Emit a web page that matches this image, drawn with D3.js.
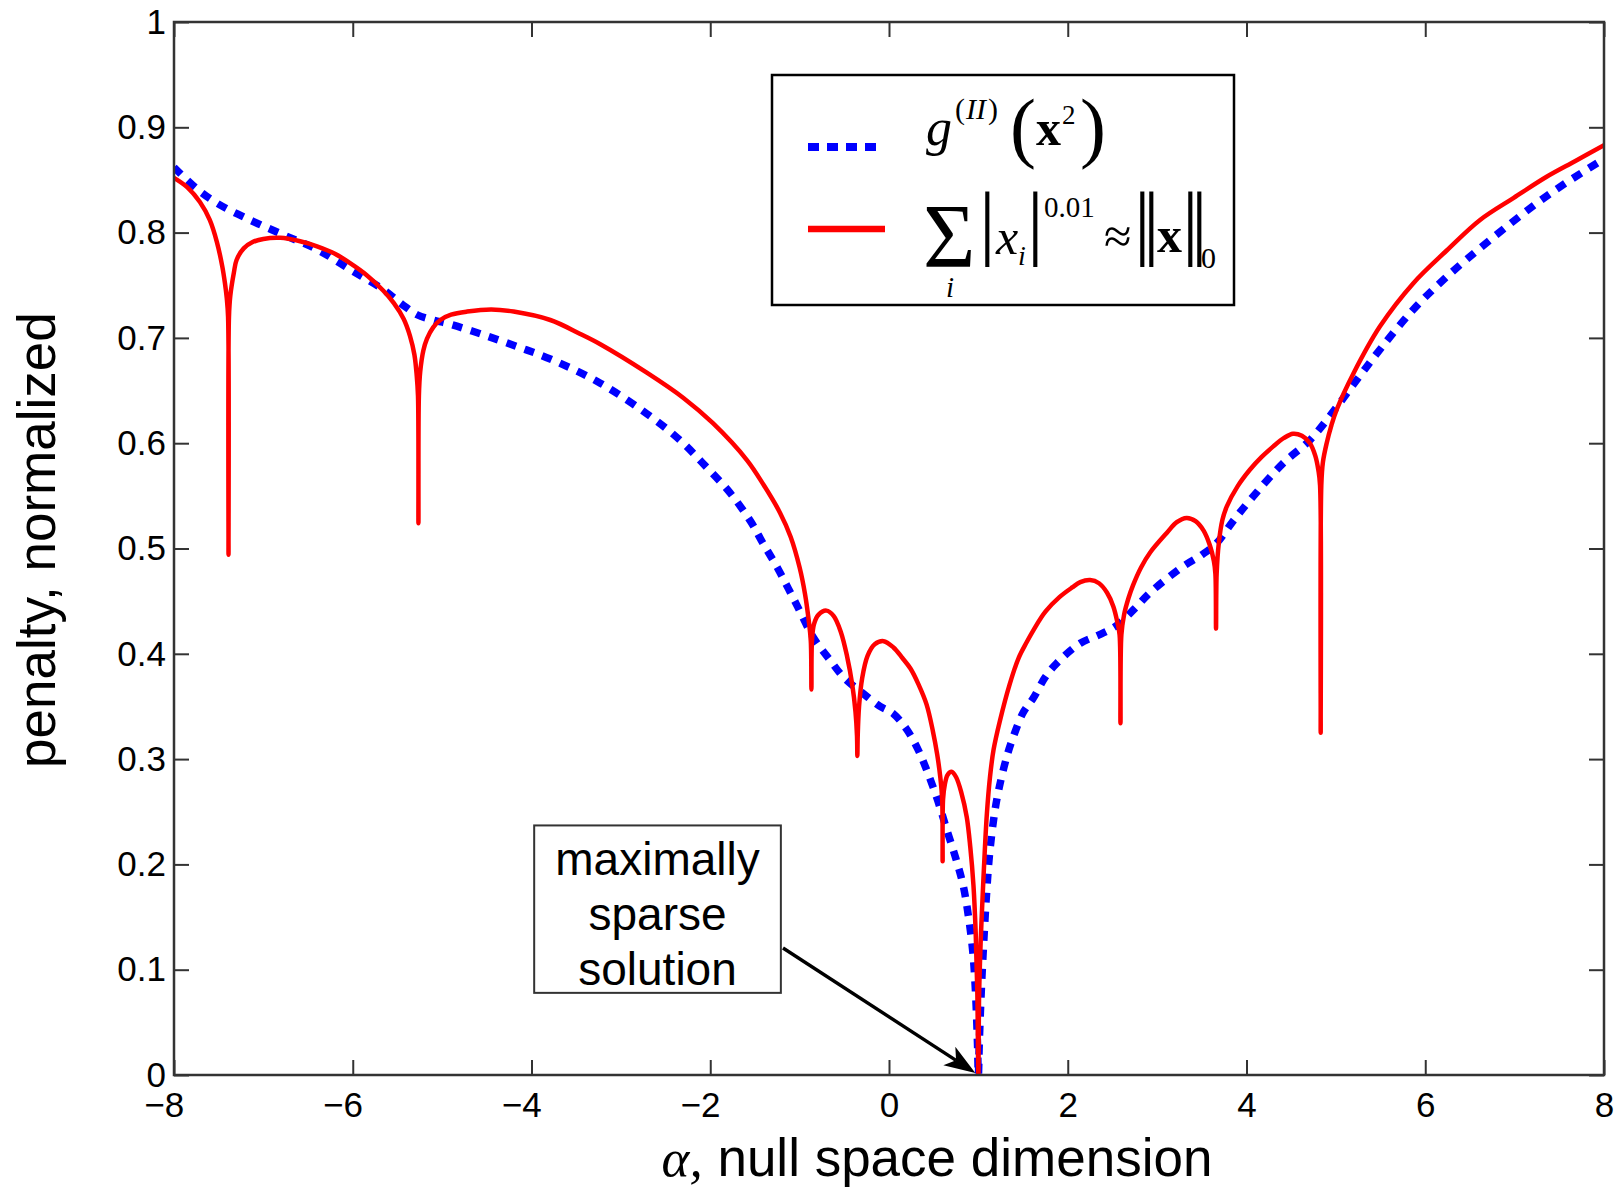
<!DOCTYPE html>
<html>
<head>
<meta charset="utf-8">
<script src="https://cdn.jsdelivr.net/npm/d3@7"></script>
<style>
html,body{margin:0;padding:0;background:#fff;}
svg{display:block;}
</style>
</head>
<body>
<svg id="chart" width="1621" height="1187"></svg>
<script>
// ---------------- data ----------------
const xTicks = [-8, -6, -4, -2, 0, 2, 4, 6, 8];
const yTicks = [0, 0.1, 0.2, 0.3, 0.4, 0.5, 0.6, 0.7, 0.8, 0.9, 1];
const yTickLabels = ["0", "0.1", "0.2", "0.3", "0.4", "0.5", "0.6", "0.7", "0.8", "0.9", "1"];
const xLabelGreek = "\u03B1,";
const xLabelText = " null space dimension";
const yLabelText = "penalty, normalized";
const annotationLines = ["maximally", "sparse", "solution"];

// blue dotted: g^(II)(x^2)
const blueX = [-8.00,-7.75,-7.52,-7.15,-6.78,-6.40,-6.03,-5.66,-5.45,-5.28,-5.10,-4.91,-4.54,-4.17,-3.79,-3.23,-2.71,-2.34,-2.05,-1.78,-1.55,-1.41,-1.25,-1.03,-0.85,-0.66,-0.50,-0.30,-0.10,0.05,0.20,0.32,0.42,0.54,0.65,0.75,0.83,0.89,0.94,0.97,0.99,1.00,1.01,1.03,1.056,1.09,1.13,1.205,1.317,1.39,1.50,1.615,1.75,1.876,2.14,2.35,2.55,2.75,2.92,3.29,3.50,3.666,3.85,4.04,4.41,4.71,4.97,5.233,5.494,5.867,6.24,6.725,7.396,8.00];
const blueY = [0.862,0.842,0.828,0.812,0.798,0.784,0.765,0.746,0.732,0.722,0.717,0.713,0.703,0.692,0.680,0.657,0.628,0.603,0.578,0.553,0.526,0.505,0.482,0.446,0.416,0.394,0.377,0.363,0.350,0.343,0.328,0.310,0.290,0.262,0.232,0.205,0.180,0.150,0.115,0.075,0.030,0.000,0.030,0.075,0.120,0.170,0.214,0.261,0.302,0.321,0.344,0.358,0.378,0.391,0.410,0.418,0.427,0.443,0.458,0.483,0.494,0.505,0.526,0.546,0.581,0.603,0.630,0.660,0.689,0.727,0.758,0.793,0.837,0.870];

// red solid: sum |x_i|^0.01
const redX = [-8.00,-7.85,-7.71,-7.60,-7.52,-7.46,-7.43,-7.41,-7.395,-7.390,-7.385,-7.37,-7.33,-7.30,-7.22,-7.12,-7.00,-6.81,-6.60,-6.40,-6.20,-6.03,-5.85,-5.66,-5.54,-5.43,-5.36,-5.31,-5.285,-5.270,-5.265,-5.260,-5.245,-5.21,-5.17,-5.10,-5.02,-4.90,-4.72,-4.45,-4.20,-3.79,-3.46,-3.23,-2.71,-2.30,-1.97,-1.59,-1.40,-1.22,-1.10,-1.00,-0.94,-0.90,-0.875,-0.868,-0.862,-0.84,-0.79,-0.70,-0.62,-0.54,-0.47,-0.41,-0.375,-0.358,-0.354,-0.350,-0.335,-0.30,-0.24,-0.16,-0.06,0.05,0.15,0.24,0.33,0.42,0.49,0.54,0.575,0.595,0.600,0.605,0.625,0.655,0.70,0.75,0.81,0.87,0.91,0.945,0.97,0.988,1.000,1.008,1.025,1.045,1.07,1.095,1.13,1.17,1.24,1.35,1.45,1.54,1.62,1.75,1.91,2.05,2.14,2.25,2.35,2.44,2.51,2.555,2.580,2.590,2.600,2.63,2.68,2.73,2.82,2.92,3.11,3.22,3.33,3.43,3.52,3.59,3.635,3.652,3.659,3.666,3.69,3.73,3.78,3.90,4.04,4.17,4.30,4.42,4.52,4.62,4.71,4.77,4.805,4.823,4.830,4.837,4.855,4.897,4.95,5.01,5.195,5.494,5.867,6.24,6.613,6.99,7.358,7.68,8.00];
const redY = [0.852,0.843,0.829,0.812,0.791,0.768,0.752,0.738,0.720,0.494,0.720,0.740,0.762,0.774,0.785,0.791,0.794,0.795,0.792,0.787,0.780,0.771,0.760,0.745,0.733,0.718,0.702,0.684,0.665,0.645,0.524,0.645,0.668,0.688,0.699,0.710,0.717,0.722,0.725,0.727,0.725,0.717,0.704,0.694,0.667,0.643,0.619,0.584,0.560,0.534,0.511,0.482,0.457,0.433,0.412,0.366,0.412,0.428,0.437,0.441,0.436,0.421,0.398,0.370,0.345,0.322,0.303,0.322,0.350,0.377,0.398,0.409,0.412,0.406,0.396,0.386,0.371,0.352,0.327,0.304,0.282,0.262,0.203,0.262,0.276,0.285,0.288,0.283,0.268,0.245,0.216,0.180,0.135,0.080,0.000,0.075,0.125,0.165,0.210,0.248,0.283,0.309,0.336,0.371,0.396,0.411,0.423,0.440,0.454,0.463,0.468,0.470,0.467,0.458,0.445,0.430,0.418,0.334,0.418,0.437,0.453,0.465,0.482,0.496,0.515,0.525,0.529,0.526,0.517,0.503,0.488,0.476,0.424,0.476,0.505,0.527,0.540,0.559,0.575,0.587,0.597,0.605,0.609,0.607,0.600,0.588,0.574,0.560,0.325,0.560,0.582,0.600,0.617,0.632,0.666,0.711,0.752,0.783,0.812,0.833,0.853,0.868,0.883];

// annotation (data units): box corners and arrow
const annoBox = [[-3.97, 0.237], [-1.21, 0.078]];
const annoArrow = [[-1.186, 0.1206], [0.966, 0.002]];

// ---------------- layout ----------------
const W = 1621, H = 1187;
const m = {left: 174, top: 22, right: 1621 - 1604, bottom: 1187 - 1075};
const pw = W - m.left - m.right, ph = H - m.top - m.bottom;
const SANS = "'Liberation Sans', Arial, Helvetica, sans-serif";
const SERIF = "'Liberation Serif', 'Times New Roman', Times, serif";
const AXC = "#333";
const TICKFONT = 35;

const svg = d3.select("#chart");
svg.append("rect").attr("width", W).attr("height", H).attr("fill", "#fff");

const x = d3.scaleLinear().domain([-8, 8]).range([m.left, m.left + pw]);
const y = d3.scaleLinear().domain([0, 1]).range([m.top + ph, m.top]);

const blueData = blueX.map((d, i) => [d, blueY[i]]);
const redData = redX.map((d, i) => [d, redY[i]]);

const line = d3.line().x(d => x(d[0])).y(d => y(d[1])).curve(d3.curveCatmullRom.alpha(0.5));

svg.append("defs").append("clipPath").attr("id", "clip")
  .append("rect").attr("x", m.left).attr("y", m.top - 4).attr("width", pw).attr("height", ph + 4);

const plot = svg.append("g").attr("clip-path", "url(#clip)");
plot.append("path").datum(blueData).attr("d", line)
  .attr("fill", "none").attr("stroke", "#0000ff").attr("stroke-width", 7.5)
  .attr("stroke-dasharray", "10,9").attr("stroke-linecap", "butt");
plot.append("path").datum(redData).attr("d", line)
  .attr("fill", "none").attr("stroke", "#ff0000").attr("stroke-width", 4.5)
  .attr("stroke-linejoin", "round");

// ---------------- axes ----------------
const TICK = 15;
function styleAxis(g) {
  g.select(".domain").remove();
  g.selectAll(".tick line").attr("stroke", AXC).attr("stroke-width", 2);
  g.selectAll(".tick text").attr("fill", "#000").attr("font-family", SANS).attr("font-size", TICKFONT);
}
const gxb = svg.append("g").attr("transform", `translate(0,${m.top + ph})`)
  .call(d3.axisBottom(x).tickValues(xTicks).tickSizeInner(-TICK).tickSizeOuter(0).tickPadding(17)
    .tickFormat(d => (d < 0 ? "\u2212" : "") + Math.abs(d)))
  .call(styleAxis);
// centre the digits on the tick, letting the minus sign hang to the left
gxb.selectAll(".tick text").attr("dx", d => d < 0 ? -0.292 * TICKFONT : 0);
svg.append("g").attr("transform", `translate(0,${m.top})`)
  .call(d3.axisTop(x).tickValues(xTicks).tickSizeInner(-TICK).tickSizeOuter(0).tickFormat(""))
  .call(styleAxis);
svg.append("g").attr("transform", `translate(${m.left},0)`)
  .call(d3.axisLeft(y).tickValues(yTicks).tickSizeInner(-TICK).tickSizeOuter(0).tickPadding(8)
    .tickFormat((d, i) => yTickLabels[i]))
  .call(styleAxis);
svg.append("g").attr("transform", `translate(${m.left + pw},0)`)
  .call(d3.axisRight(y).tickValues(yTicks).tickSizeInner(-TICK).tickSizeOuter(0).tickFormat(""))
  .call(styleAxis);

svg.append("rect").attr("x", m.left).attr("y", m.top).attr("width", pw).attr("height", ph)
  .attr("fill", "none").attr("stroke", AXC).attr("stroke-width", 2.5);

// axis labels
const xl = svg.append("text").attr("x", x(0) + 48).attr("y", 1176)
  .attr("text-anchor", "middle").attr("font-family", SANS).attr("font-size", 53).attr("fill", "#000");
xl.append("tspan").attr("font-family", SERIF).attr("font-style", "italic").text(xLabelGreek);
xl.append("tspan").text(xLabelText);

svg.append("text").attr("transform", `translate(55,${y(0.508)}) rotate(-90)`)
  .attr("text-anchor", "middle").attr("font-family", SANS).attr("font-size", 53).attr("fill", "#000")
  .text(yLabelText);

// ---------------- legend ----------------
const lg = svg.append("g");
lg.append("rect").attr("x", 772).attr("y", 75).attr("width", 462).attr("height", 230)
  .attr("fill", "#fff").attr("stroke", "#000").attr("stroke-width", 2.5);
lg.append("line").attr("x1", 808).attr("x2", 877).attr("y1", 147).attr("y2", 147)
  .attr("stroke", "#0000ff").attr("stroke-width", 8).attr("stroke-dasharray", "11,8");
lg.append("line").attr("x1", 808).attr("x2", 885).attr("y1", 229).attr("y2", 229)
  .attr("stroke", "#ff0000").attr("stroke-width", 6.5);

// each formula is one text element; its pieces are placed with tspans
function formula(parts) {
  const t = lg.append("text").attr("font-family", SERIF).attr("fill", "#000");
  parts.forEach(p => {
    const s = t.append("tspan").attr("x", p.x).attr("y", p.y).attr("font-size", p.size).text(p.s);
    if (p.it) s.attr("font-style", "italic");
    if (p.bf) s.attr("font-weight", "bold");
    if (p.ls) s.attr("letter-spacing", p.ls);
  });
  return t;
}
// g^(II)(x^2)
formula([
  {s: "g", x: 926, y: 145, size: 52, it: true},
  {s: "(", x: 955, y: 119, size: 30},
  {s: "II", x: 966, y: 119, size: 30, it: true},
  {s: ")", x: 988, y: 119, size: 30},
  {s: "(", x: 1010, y: 153, size: 78},
  {s: "x", x: 1036, y: 145, size: 50, bf: true},
  {s: "2", x: 1062, y: 124, size: 27},
  {s: ")", x: 1080, y: 153, size: 78}
]);
// sum_i |x_i|^0.01 ≈ ||x||_0
formula([
  {s: "\u03A3", x: 923, y: 267, size: 90},
  {s: "i", x: 946, y: 297, size: 29, it: true},
  {s: "|", x: 979, y: 249, size: 83},
  {s: "x", x: 996, y: 254, size: 50, it: true},
  {s: "i", x: 1018, y: 265, size: 28, it: true},
  {s: "|", x: 1027, y: 249, size: 83},
  {s: "0.01", x: 1044, y: 217, size: 29},
  {s: "\u2248", x: 1104, y: 253, size: 50},
  {s: "||", x: 1134, y: 249, size: 83, ls: -7.6},
  {s: "x", x: 1157, y: 252, size: 50, bf: true},
  {s: "||", x: 1182, y: 249, size: 83, ls: -7.6},
  {s: "0", x: 1201, y: 268, size: 30}
]);

// ---------------- annotation ----------------
const bx0 = x(annoBox[0][0]), by0 = y(annoBox[0][1]);
const bx1 = x(annoBox[1][0]), by1 = y(annoBox[1][1]);
svg.append("rect").attr("x", bx0).attr("y", by0).attr("width", bx1 - bx0).attr("height", by1 - by0)
  .attr("fill", "#fff").attr("stroke", AXC).attr("stroke-width", 2);
const cx = (bx0 + bx1) / 2;
annotationLines.forEach((s, i) => {
  svg.append("text").attr("x", cx).attr("y", by0 + 50 + i * 55)
    .attr("text-anchor", "middle").attr("font-family", SANS).attr("font-size", 46).attr("fill", "#000").text(s);
});
const ax0 = x(annoArrow[0][0]), ay0 = y(annoArrow[0][1]);
const ax1 = x(annoArrow[1][0]), ay1 = y(annoArrow[1][1]);
const dx = ax1 - ax0, dy = ay1 - ay0, len = Math.hypot(dx, dy);
const ux = dx / len, uy = dy / len, px = -uy, py = ux;
const L = 31, Wd = 11, N = 8;
svg.append("line").attr("x1", ax0).attr("y1", ay0).attr("x2", ax1 - ux * (L - N)).attr("y2", ay1 - uy * (L - N))
  .attr("stroke", "#000").attr("stroke-width", 3.4);
const head = [
  [ax1, ay1],
  [ax1 - ux * L + px * Wd, ay1 - uy * L + py * Wd],
  [ax1 - ux * (L - N), ay1 - uy * (L - N)],
  [ax1 - ux * L - px * Wd, ay1 - uy * L - py * Wd]
];
svg.append("path").attr("d", "M" + head.map(p => p.join(",")).join("L") + "Z").attr("fill", "#000");
</script>
</body>
</html>
